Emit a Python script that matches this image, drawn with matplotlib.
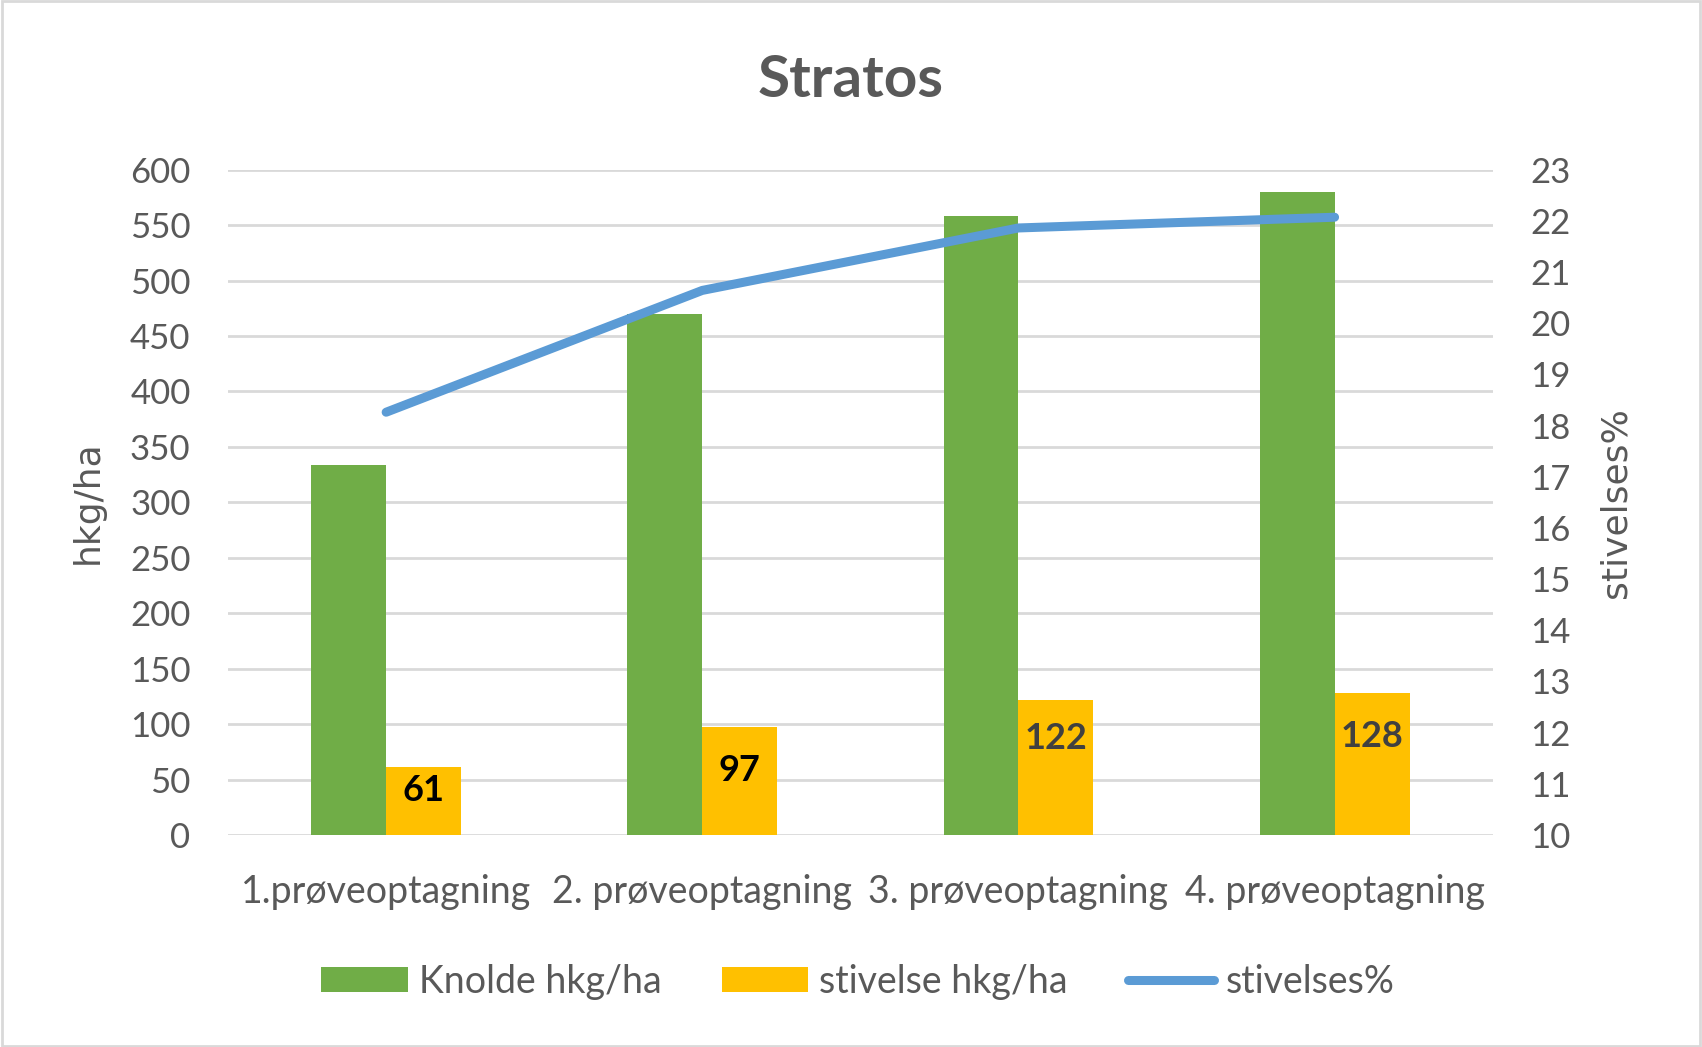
import matplotlib.pyplot as plt
from matplotlib.patches import Rectangle
import numpy as np

categories = ["1.prøveoptagning", "2. prøveoptagning",
              "3. prøveoptagning", "4. prøveoptagning"]
knolde = [334, 470, 558, 580]
stivelse = [61, 97, 122, 128]
stivelses_pct = [18.26, 20.64, 21.86, 22.07]

# where the bar labels sit (hand placed in the original)
label_y = [40, 58, 87, 89]
label_colors = ["black", "black", "#404040", "#404040"]

GREY = "#595959"
plt.rcParams["font.family"] = ["Lato", "DejaVu Sans"]

fig = plt.figure(figsize=(17.02, 10.47), dpi=100)
ax = fig.add_axes([0.134, 0.2025, 0.743, 0.6355])

x = np.arange(len(categories))
w = 0.237
ax.bar(x - w / 2, knolde, w, color="#70AD47", label="Knolde hkg/ha", zorder=2)
ax.bar(x + w / 2, stivelse, w, color="#FFC000", label="stivelse hkg/ha", zorder=2)
for xi, yi, v, c in zip(x, label_y, stivelse, label_colors):
    ax.text(xi + w / 2, yi, str(v), ha="center", va="center",
            fontsize=26, fontweight="bold", color=c, zorder=3)

ax.set_xlim(-0.5, len(categories) - 0.5)
ax.set_ylim(0, 600)
ax.set_yticks(range(0, 601, 50))
ax.yaxis.grid(True, color="#D9D9D9", linewidth=2, zorder=0)
ax.set_axisbelow(True)
for s in ax.spines.values():
    s.set_visible(False)
ax.tick_params(axis="both", length=0, labelsize=25, labelcolor=GREY)
ax.tick_params(axis="y", pad=27)
ax.tick_params(axis="x", pad=28, labelsize=27)
ax.set_xticks(x)
ax.set_xticklabels(categories)
ax.set_ylabel("hkg/ha", fontsize=26, color=GREY, family="DejaVu Sans",
              labelpad=18)

ax2 = ax.twinx()
ax2.plot(x, stivelses_pct, color="#5B9BD5", linewidth=6.5,
         solid_capstyle="round", solid_joinstyle="round", label="stivelses%")
ax2.set_ylim(10, 23)
ax2.set_yticks(range(10, 24))
for s in ax2.spines.values():
    s.set_visible(False)
ax2.tick_params(axis="y", length=0, labelsize=25, labelcolor=GREY, pad=27)
ax2.set_ylabel("stivelses%", fontsize=26, color=GREY, family="DejaVu Sans",
               labelpad=20)

fig.text(0.5, 0.923, "Stratos", ha="center", va="center", fontsize=42,
         fontweight="bold", color=GREY)

h1, l1 = ax.get_legend_handles_labels()
h2, l2 = ax2.get_legend_handles_labels()
leg = fig.legend(h1 + h2, l1 + l2, loc="center", bbox_to_anchor=(0.504, 0.062),
                 ncol=3, frameon=False, fontsize=27, handlelength=2.3,
                 handleheight=0.65, handletextpad=0.3, columnspacing=1.6)
for t in leg.get_texts():
    t.set_color(GREY)

fig.patches.append(Rectangle((0.001, 0.001), 0.998, 0.998,
                             transform=fig.transFigure, fill=False,
                             edgecolor="#D9D9D9", linewidth=2))

fig.savefig("out.png", dpi=100)
